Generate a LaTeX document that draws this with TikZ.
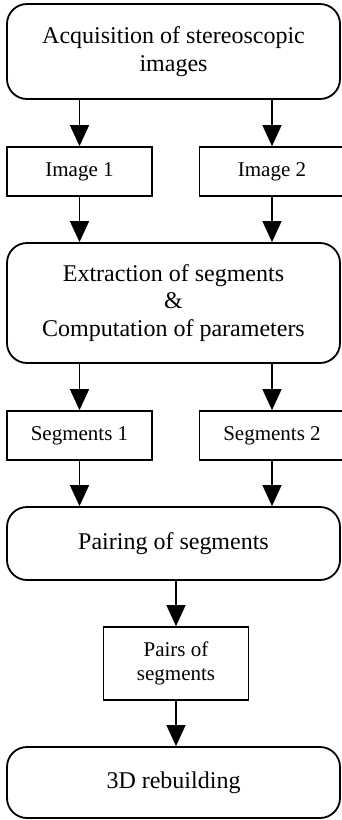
\documentclass[tikz,border=0pt]{standalone}
\usepackage{fontspec}
\setmainfont{Liberation Serif}
\usetikzlibrary{arrows.meta}
\begin{document}
\begin{tikzpicture}[x=1pt,y=-1pt,
  bigbox/.style={draw,line width=1.8pt,rounded corners=20pt,minimum width=333pt,inner sep=0pt,align=center,font=\fontsize{24}{27.5}\selectfont},
  smallbox/.style={draw,line width=1.7pt,minimum width=145pt,inner sep=0pt,align=center,font=\fontsize{21}{24}\selectfont},
  flow/.style={line width=1.5pt,-{Triangle[width=19pt,length=21pt]}}]
\useasboundingbox (0,0) rectangle (341,820);
\node[bigbox,minimum height=95pt] (acq) at (173.5,51.5) {Acquisition of stereoscopic\\images};
\node[smallbox,minimum height=49pt] (im1) at (79.5,171.5) {Image 1};
\node[smallbox,minimum height=49pt] (im2) at (272,171.5) {Image 2};
\node[bigbox,minimum height=120pt] (ext) at (173.5,303) {Extraction of segments\\\&\\Computation of parameters};
\node[smallbox,minimum height=49pt] (seg1) at (79.5,435.5) {Segments 1};
\node[smallbox,minimum height=49pt] (seg2) at (272,435.5) {Segments 2};
\node[bigbox,minimum height=73pt] (pair) at (173.5,543.5) {Pairing of segments};
\node[smallbox,minimum height=73pt] (pairs) at (176,663.5) {Pairs of\\segments};
\node[bigbox,minimum height=71pt] (reb) at (173.5,782.5) {3D rebuilding};
\draw[flow] (acq.south -| im1.north) -- (im1.north);
\draw[flow] (acq.south -| im2.north) -- (im2.north);
\draw[flow] (im1.south) -- (im1.south |- ext.north);
\draw[flow] (im2.south) -- (im2.south |- ext.north);
\draw[flow] (ext.south -| seg1.north) -- (seg1.north);
\draw[flow] (ext.south -| seg2.north) -- (seg2.north);
\draw[flow] (seg1.south) -- (seg1.south |- pair.north);
\draw[flow] (seg2.south) -- (seg2.south |- pair.north);
\draw[flow] (pair.south -| pairs.north) -- (pairs.north);
\draw[flow] (pairs.south) -- (pairs.south |- reb.north);
\end{tikzpicture}
\end{document}
